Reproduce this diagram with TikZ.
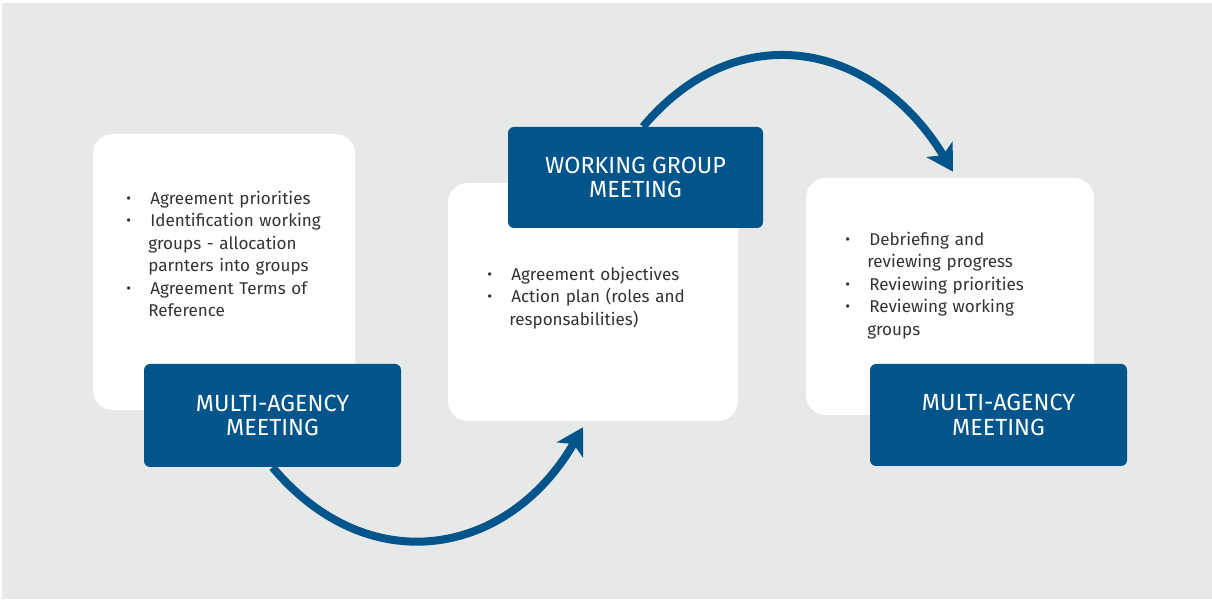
\documentclass[tikz,border=0pt]{standalone}
\usepackage{fontspec}
\setmainfont{Fira Sans}
\usetikzlibrary{arrows.meta,calc}
\definecolor{bgG}{HTML}{E7E9E8}
\definecolor{blu}{HTML}{02558A}
\definecolor{txt}{HTML}{333333}
\newcommand{\bu}{\makebox[18pt][l]{\raisebox{0.9pt}{\fontsize{11}{11}\selectfont\textbullet}}}
\newcommand{\ci}{\hspace*{16.5pt}}
\begin{document}
\begin{tikzpicture}[x=0.75pt,y=0.75pt,
  card/.style={fill=white,rounded corners=15pt,inner sep=0pt},
  head/.style={fill=blu,rounded corners=4.5pt,text=white,align=center,font=\fontsize{17.5}{18.5}\selectfont,inner sep=0pt},
  body/.style={text=txt,align=left,anchor=base west,inner sep=0pt,text width=220pt,font=\fontsize{12.8}{16.875}\selectfont},
  flow/.style={blu,line width=6pt,-{Stealth[length=19.5pt,width=22.5pt,inset=5pt]},looseness=1.22}]
\useasboundingbox (0,0) rectangle (1212,599);
\fill[bgG] (2,0) rectangle (1212,596);
% white cards
\node[card,minimum width=196.5pt,minimum height=207pt] (w1) at (224,327) {};
\node[card,minimum width=217.5pt,minimum height=178.5pt] (w2) at (593,297) {};
\node[card,minimum width=216pt,minimum height=177.75pt] (w3) at (950,302.5) {};
% body texts
\node[body] (t1) at (126,394.5) {\bu Agreement priorities\\
\bu Identification working\\
\ci groups - allocation\\
\ci parnters into groups\\
\bu Agreement Terms of\\
\ci Reference};
\node[body] (t2) at (487,318.5) {\bu Agreement objectives\\
\bu Action plan (roles and\\
\ci responsabilities)};
\node[body] (t3) at (845,353.5) {\bu Debriefing and\\
\ci reviewing progress\\
\bu Reviewing priorities\\
\bu Reviewing working\\
\ci groups};
% blue headers
\node[head,minimum width=192.75pt,minimum height=77.25pt] (b1) at (272.5,183.5) {MULTI-AGENCY\\MEETING};
\node[head,minimum width=191.25pt,minimum height=75.75pt] (b2) at (635.5,421.5) {WORKING GROUP\\MEETING};
\node[head,minimum width=192.75pt,minimum height=76.5pt] (b3) at (998.5,184) {MULTI-AGENCY\\MEETING};
% connectors
\coordinate (e1) at ($(w2.south)+(-10,-6)$);
\coordinate (s2) at ($(b2.north)+(7.5,0)$);
\coordinate (e2) at ($(w3.north)+(3,6)$);
\draw[flow] (b1.south) to[out=-50,in=-120] (e1);
\draw[flow] (s2) to[out=50,in=121] (e2);
\end{tikzpicture}
\end{document}
